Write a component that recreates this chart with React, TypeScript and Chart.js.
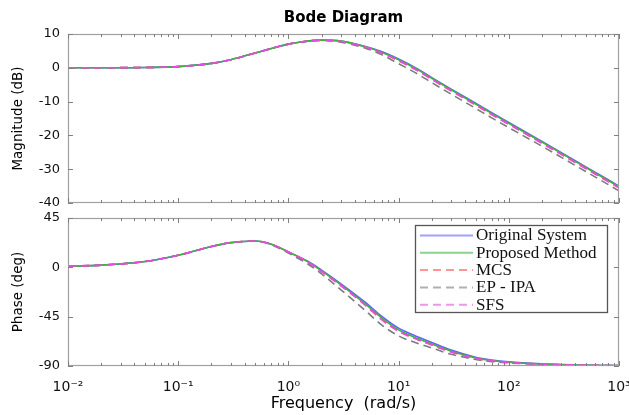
import React, { useEffect, useRef } from 'react';
import { Chart, registerables } from 'chart.js';

Chart.register(...registerables);

// ---------- data ----------
const frequencies = [0.01, 0.02, 0.05, 0.1, 0.2, 0.3, 0.5, 0.7, 1, 1.5, 2, 3, 5, 7, 10, 15, 20, 30, 50, 70, 100, 200, 300, 500, 1000];

const magOriginal = [0, 0.02, 0.1, 0.35, 1.3, 2.4, 4.4, 5.7, 7.0, 7.9, 8.2, 7.9, 6.3, 4.8, 2.6, -0.4, -2.9, -6.3, -10.5, -13.3, -16.2, -21.8, -25.1, -29.3, -35.0];
const magProposed = [0, 0.02, 0.1, 0.35, 1.3, 2.4, 4.4, 5.7, 7.0, 7.9, 8.2, 7.9, 6.2, 4.6, 2.4, -0.6, -3.1, -6.5, -10.7, -13.5, -16.4, -22.0, -25.3, -29.5, -35.2];
const magMCS = [0, 0.02, 0.1, 0.35, 1.3, 2.4, 4.4, 5.7, 7.0, 7.9, 8.2, 7.8, 6.1, 4.4, 2.1, -0.9, -3.4, -6.8, -11.0, -13.8, -16.7, -22.3, -25.6, -29.8, -35.5];
const magEPIPA = [0, 0.02, 0.1, 0.35, 1.3, 2.4, 4.4, 5.7, 7.0, 7.9, 8.1, 7.6, 5.8, 3.9, 1.2, -1.9, -4.4, -7.8, -12.0, -14.8, -17.7, -23.2, -26.5, -30.7, -36.4];
const magSFS = [0, 0.02, 0.1, 0.35, 1.3, 2.4, 4.4, 5.7, 7.0, 7.9, 8.2, 7.8, 6.1, 4.4, 2.1, -0.9, -3.4, -6.8, -11.0, -13.8, -16.7, -22.3, -25.6, -29.8, -35.5];

const phaseOriginal = [1.0, 2.0, 5.3, 11, 19, 22.5, 24, 21, 14, 5.5, -2.5, -15, -32, -44.5, -55.5, -63.5, -68.5, -75.5, -82, -84.5, -86.2, -88, -88.6, -89.2, -89.6];
const phaseProposed = [1.0, 2.0, 5.3, 11, 19, 22.5, 24, 21, 14, 5, -3.3, -16, -33.5, -46, -57, -65, -70, -76.5, -82.6, -85, -86.6, -88.2, -88.8, -89.3, -89.7];
const phaseMCS = [1.0, 2.0, 5.3, 11, 19, 22.5, 24, 21, 14, 4.7, -3.8, -16.8, -34.5, -47.5, -58.3, -66, -70.8, -77.2, -83, -85.3, -86.8, -88.3, -88.9, -89.3, -89.7];
const phaseEPIPA = [1.0, 2.0, 5.3, 11, 19, 22.5, 24, 20.6, 13, 3, -6, -20.5, -39.5, -52.5, -62.5, -69.5, -73.5, -79.3, -84, -86, -87.2, -88.5, -89, -89.4, -89.7];
const phaseSFS = [1.0, 2.0, 5.3, 11, 19, 22.5, 24, 21, 14, 4.7, -3.8, -16.8, -34.5, -47.5, -58.3, -66, -70.8, -77.2, -83, -85.3, -86.8, -88.3, -88.9, -89.3, -89.7];

const seriesLabels = ['Original System', 'Proposed Method', 'MCS', 'EP - IPA', 'SFS'];
const magSeries = [magOriginal, magProposed, magMCS, magEPIPA, magSFS];
const phaseSeries = [phaseOriginal, phaseProposed, phaseMCS, phaseEPIPA, phaseSFS];

const magTickValues = [10, 0, -10, -20, -30, -40];
const phaseTickValues = [45, 0, -45, -90];
const freqTickValues = [0.01, 0.1, 1, 10, 100, 1000];
const freqTickLabels = ['10\u207B\u00B2', '10\u207B\u00B9', '10\u2070', '10\u00B9', '10\u00B2', '10\u00B3'];

const titleText = 'Bode Diagram';
const magAxisTitle = 'Magnitude (dB)';
const phaseAxisTitle = 'Phase (deg)';
const freqAxisTitle = 'Frequency  (rad/s)';

// ---------- styles ----------
const seriesColors = ['#6262ff', '#3cb43c', '#ff5050', '#7c7c7c', '#e050e0'];
const seriesDash: number[][] = [[], [], [8, 5], [8, 5], [8, 5]];
const SANS = "'DejaVu Sans', 'Liberation Sans', sans-serif";
const SERIF = "'Liberation Serif', 'DejaVu Serif', serif";

const W = 629;
const TOP_H = 210;
const BOT_H = 205;

const framePlugin = {
  id: 'bodeFrame',
  afterDatasetsDraw(chart: any) {
    const { ctx, chartArea: a, scales } = chart;
    const xs = scales.x;
    const ys = scales.y;
    ctx.save();
    ctx.strokeStyle = '#a0a0a0';
    ctx.lineWidth = 1.2;
    ctx.strokeRect(a.left + 0.5, a.top + 0.5, a.right - a.left - 1, a.bottom - a.top - 1);
    ctx.strokeStyle = '#808080';
    ctx.lineWidth = 1;
    ctx.beginPath();
    for (let e = -2; e <= 3; e++) {
      for (let k = 1; k <= 9; k++) {
        const v = k * Math.pow(10, e);
        if (v > 1000.0001) break;
        const px = Math.round(xs.getPixelForValue(v)) + 0.5;
        const L = k === 1 ? 5 : 3;
        ctx.moveTo(px, a.bottom);
        ctx.lineTo(px, a.bottom - L);
        ctx.moveTo(px, a.top);
        ctx.lineTo(px, a.top + L);
      }
    }
    ys.ticks.forEach((t: any) => {
      const py = Math.round(ys.getPixelForValue(t.value)) + 0.5;
      ctx.moveTo(a.left, py);
      ctx.lineTo(a.left + 5, py);
      ctx.moveTo(a.right, py);
      ctx.lineTo(a.right - 5, py);
    });
    ctx.stroke();
    ctx.restore();
  },
};

const legendPlugin = {
  id: 'bodeLegend',
  afterDraw(chart: any, _args: any, opts: any) {
    if (!opts || !opts.show) return;
    const { ctx, chartArea: a } = chart;
    const boxW = 192;
    const boxH = 87;
    const left = a.right - 12 - boxW;
    const top = a.top + 7;
    ctx.save();
    ctx.fillStyle = '#ffffff';
    ctx.fillRect(left, top, boxW, boxH);
    ctx.strokeStyle = '#555555';
    ctx.lineWidth = 1.3;
    ctx.strokeRect(left + 0.5, top + 0.5, boxW, boxH);
    const ds = chart.data.datasets.slice().sort((p: any, q: any) => p.legendIndex - q.legendIndex);
    ds.forEach((d: any, i: number) => {
      const cy = top + 10.5 + i * 17.3;
      ctx.save();
      ctx.globalAlpha = 0.6;
      ctx.strokeStyle = d.borderColor;
      ctx.lineWidth = 2;
      ctx.setLineDash(d.borderDash || []);
      ctx.beginPath();
      ctx.moveTo(left + 5, cy);
      ctx.lineTo(left + 58, cy);
      ctx.stroke();
      ctx.restore();
      ctx.fillStyle = '#111111';
      ctx.font = `17px ${SERIF}`;
      ctx.textBaseline = 'middle';
      ctx.textAlign = 'left';
      ctx.fillText(d.label, left + 61, cy + 0.5);
    });
    ctx.restore();
  },
};

function makeDatasets(values: number[][]) {
  return values.map((arr, i) => ({
    label: seriesLabels[i],
    legendIndex: i,
    data: frequencies.map((f, j) => ({ x: f, y: arr[j] })),
    borderColor: seriesColors[i],
    backgroundColor: seriesColors[i],
    borderDash: seriesDash[i],
    borderWidth: 1.6,
    pointRadius: 0,
    fill: false,
    cubicInterpolationMode: 'monotone' as const,
    order: seriesLabels.length - i,
  }));
}

function xScale(showLabels: boolean) {
  return {
    type: 'logarithmic' as const,
    min: 0.01,
    max: 1000,
    display: showLabels,
    grid: { display: false, drawTicks: false },
    border: { display: false },
    afterBuildTicks: (s: any) => {
      s.ticks = freqTickValues.map((v) => ({ value: v }));
    },
    afterFit: (s: any) => {
      if (showLabels) s.height = 49;
      s.paddingLeft = 0;
      s.paddingRight = 0;
      s.paddingTop = 0;
      s.paddingBottom = 0;
    },
    ticks: {
      autoSkip: false,
      maxRotation: 0,
      padding: 13,
      color: '#111111',
      font: { family: SANS, size: 14 },
      callback: (_v: any, idx: number) => freqTickLabels[idx],
    },
    title: {
      display: showLabels,
      text: freqAxisTitle,
      color: '#000000',
      font: { family: SANS, size: 16 },
      padding: { top: 0, bottom: 2 },
    },
  };
}

function yScale(min: number, max: number, tickValues: number[], title: string) {
  return {
    type: 'linear' as const,
    min,
    max,
    grid: { display: false, drawTicks: false },
    border: { display: false },
    afterBuildTicks: (s: any) => {
      s.ticks = tickValues.map((v) => ({ value: v }));
    },
    afterFit: (s: any) => {
      s.width = 68;
      s.paddingTop = 0;
      s.paddingBottom = 0;
      s.paddingLeft = 0;
      s.paddingRight = 0;
    },
    ticks: {
      padding: 8,
      color: '#111111',
      font: { family: SANS, size: 13 },
      callback: (v: any) => String(v),
    },
    title: {
      display: true,
      text: title,
      color: '#000000',
      font: { family: SANS, size: 13.5 },
      padding: { top: 10, bottom: 0 },
    },
  };
}

export default function App() {
  const topRef = useRef<HTMLCanvasElement>(null);
  const botRef = useRef<HTMLCanvasElement>(null);

  useEffect(() => {
    document.body.style.margin = '0';
    const top = new Chart(topRef.current as HTMLCanvasElement, {
      type: 'line',
      data: { datasets: makeDatasets(magSeries) as any },
      options: {
        responsive: false,
        animation: false,
        devicePixelRatio: 1,
        layout: { padding: { left: 0, right: 10, top: 0, bottom: 7 } },
        scales: {
          x: xScale(false) as any,
          y: yScale(-40, 10, magTickValues, magAxisTitle) as any,
        },
        plugins: {
          legend: { display: false },
          tooltip: { enabled: false },
          title: {
            display: true,
            text: titleText,
            fullSize: false,
            color: '#000000',
            font: { family: SANS, size: 15, weight: 'bold' },
            padding: { top: 9, bottom: 7 },
          },
          bodeLegend: { show: false },
        } as any,
      },
      plugins: [framePlugin, legendPlugin],
    });
    const bot = new Chart(botRef.current as HTMLCanvasElement, {
      type: 'line',
      data: { datasets: makeDatasets(phaseSeries) as any },
      options: {
        responsive: false,
        animation: false,
        devicePixelRatio: 1,
        layout: { padding: { left: 0, right: 10, top: 8, bottom: 0 } },
        scales: {
          x: xScale(true) as any,
          y: yScale(-90, 45, phaseTickValues, phaseAxisTitle) as any,
        },
        plugins: {
          legend: { display: false },
          tooltip: { enabled: false },
          bodeLegend: { show: true },
        } as any,
      },
      plugins: [framePlugin, legendPlugin],
    });
    return () => {
      top.destroy();
      bot.destroy();
    };
  }, []);

  return (
    <div style={{ position: 'absolute', left: 0, top: 0, width: W, height: TOP_H + BOT_H, background: '#ffffff' }}>
      <canvas ref={topRef} width={W} height={TOP_H} style={{ position: 'absolute', left: 0, top: 0, width: W, height: TOP_H }} />
      <canvas ref={botRef} width={W} height={BOT_H} style={{ position: 'absolute', left: 0, top: TOP_H, width: W, height: BOT_H }} />
    </div>
  );
}
